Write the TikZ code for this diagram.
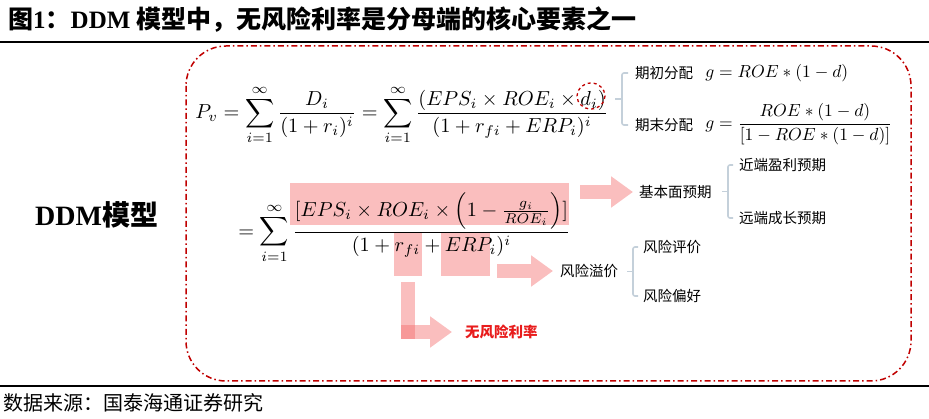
\documentclass[tikz,border=0pt]{standalone}
\usepackage{fontspec}
\setmainfont{Liberation Serif}
\newfontfamily\cjk{Noto Sans CJK SC}
\usetikzlibrary{arrows.meta,calc}

\definecolor{borderred}{RGB}{192,0,0}
\definecolor{hilitepink}{RGB}{245,110,110}
\definecolor{arrowpink}{RGB}{250,190,190}
\definecolor{bracegray}{RGB}{196,208,218}
\definecolor{rfred}{RGB}{232,28,28}

\tikzset{
  cnlabel/.style={font=\fontsize{14.5}{17}\selectfont\cjk, inner sep=0pt, anchor=west},
  bigmath/.style={inner sep=0pt, anchor=west, scale=2.03, transform shape},
  smallmath/.style={inner sep=0pt, anchor=west, scale=1.75, transform shape},
  hilite/.style={fill=hilitepink, fill opacity=0.45, draw=none, inner sep=0pt, anchor=north west},
  blockarrow/.style={draw=arrowpink, line width=14pt, -{Triangle[length=22pt, width=30pt, fill=arrowpink]}},
  brace/.style={draw=bracegray, line width=1.6pt, rounded corners=2pt},
  border/.style={draw=borderred, line width=1.5pt, rounded corners=40pt,
    dash pattern=on 6pt off 3pt on 1.5pt off 3pt},
}

\begin{document}
\begin{tikzpicture}[x=1pt, y=-1pt]
    \useasboundingbox (0,0) rectangle (929,419);
    % Title and rules
    \node[anchor=west, inner sep=0pt, font=\fontsize{25}{29}\selectfont\bfseries] (title) at (8,20)
        {{\cjk 图}1{\cjk ：}DDM {\cjk 模型中，无风险利率是分母端的核心要素之一}};
    \draw[line width=2pt] (0,42) -- (929,42);
    \draw[line width=2pt] (0,386) -- (929,386);
    \node[anchor=west, inner sep=0pt, font=\fontsize{20}{24}\selectfont\cjk] (source) at (3,403)
        {数据来源：国泰海通证券研究};
    % Frame
    \draw[border] (186,46) rectangle (911,381);
    \node[anchor=west, inner sep=0pt, font=\fontsize{28}{32}\selectfont\bfseries] (ddm) at (35,215)
        {DDM{\cjk 模型}};
    % Highlights
    \node[hilite, minimum width=279pt, minimum height=42pt] (numbox) at (290,183) {};
    \node[hilite, minimum width=28pt, minimum height=43pt] (rfbox) at (394,233) {};
    \node[hilite, minimum width=49pt, minimum height=43pt] (erpbox) at (441,233) {};
    % Formulas
    \node[bigmath] (form1) at (195,115)
        {$\displaystyle P_v=\sum_{i=1}^{\infty}\frac{D_i}{(1+r_i)^i}
          =\sum_{i=1}^{\infty}\frac{(EPS_i\times ROE_i\times d_i)}{(1+r_{fi}+ERP_i)^i}$};
    \draw[borderred, line width=1.3pt, dashed] (591,96) ellipse [x radius=14, y radius=13];
    \node[bigmath] (form2) at (238,228)
        {$\displaystyle =\sum_{i=1}^{\infty}\frac{[EPS_i\times ROE_i\times
          \left(1-\frac{g_i}{ROE_i}\right)]}{(1+r_{fi}+ERP_i)^i}$};
    % Payout branches
    \node[cnlabel] (qc) at (635,73) {期初分配};
    \node[smallmath] (gqc) at (705,73) {$g=ROE\ast(1-d)$};
    \node[cnlabel] (qm) at (635,125) {期末分配};
    \node[smallmath] (gqm) at (705,124) {$\displaystyle g=\frac{ROE\ast(1-d)}{[1-ROE\ast(1-d)]}$};
    \draw[brace] ([xshift=-7pt]qc.west) -- ++(-6,0) coordinate (b1) |- ([xshift=-7pt]qm.west);
    \coordinate (b1m) at ($(b1)!0.5!(b1 |- qm.west)$);
    \draw[brace] (b1m) -- ++(-7,0);
    % Fundamentals
    \node[cnlabel] (jbm) at (639,192) {基本面预期};
    \node[cnlabel] (jdyl) at (739,165) {近端盈利预期};
    \node[cnlabel] (ydcz) at (739,218) {远端成长预期};
    \draw[blockarrow] ([xshift=11pt]numbox.east |- jbm.west) -- ([xshift=-6pt]jbm.west);
    \draw[brace] ([xshift=-6pt]jdyl.west) -- ++(-5,0) coordinate (b2) |- ([xshift=-6pt]ydcz.west);
    \coordinate (b2m) at ($(b2)!0.5!(b2 |- ydcz.west)$);
    \draw[brace] (b2m) -- ++(-6,0);
    % Risk premium
    \node[cnlabel] (yjj) at (560,271) {风险溢价};
    \node[cnlabel] (fxpj) at (643,247) {风险评价};
    \node[cnlabel] (fxph) at (643,296) {风险偏好};
    \draw[blockarrow] ([xshift=7pt]erpbox.east |- yjj.west) -- ([xshift=-7pt]yjj.west);
    \draw[brace] ([xshift=-5pt]fxpj.west) -- ++(-5,0) coordinate (b3) |- ([xshift=-5pt]fxph.west);
    \coordinate (b3m) at ($(b3)!0.5!(b3 |- fxph.west)$);
    \draw[brace] (b3m) -- ++(-6,0);
    % Risk-free rate
    \node[cnlabel, font=\fontsize{14.5}{17}\selectfont\cjk\bfseries, text=rfred] (wfx) at (465,332) {无风险利率};
    \coordinate (rfcorner) at (rfbox.south |- wfx.west);
    \draw[blockarrow] ([xshift=-7pt]rfcorner) -- ([xshift=-13pt]wfx.west);
    \draw[draw=hilitepink, draw opacity=0.45, line width=14pt] ([yshift=-6pt]rfbox.south) -- ([yshift=-7pt]rfcorner);
\end{tikzpicture}
\end{document}
